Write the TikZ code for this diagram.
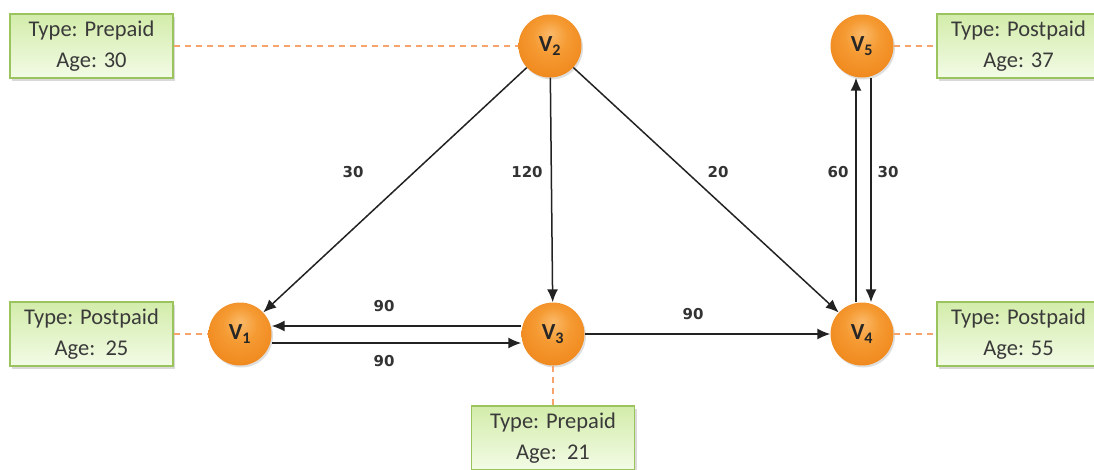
\documentclass[tikz,border=0pt]{standalone}
\usepackage{fontspec}
\setmainfont{Carlito}
\newfontfamily\lblfont{DejaVu Sans}
\usetikzlibrary{arrows.meta,shadows,shadings}
\definecolor{boxborder}{HTML}{9BC45E}
\definecolor{boxtop}{HTML}{D3ECAA}
\definecolor{boxbot}{HTML}{F3FBE6}
\definecolor{dashor}{HTML}{F6A46C}
\definecolor{lbltext}{HTML}{333333}
\definecolor{boxtext}{HTML}{3A3A3A}
\definecolor{edgecol}{HTML}{222222}
\definecolor{ballhi}{HTML}{FBB968}
\definecolor{ballmid}{HTML}{F59A32}
\definecolor{ballmain}{HTML}{EE8418}
\definecolor{balledge}{HTML}{CC6A0A}
\pgfdeclareradialshading{orangeball}{\pgfpoint{0bp}{10bp}}{%
  color(0bp)=(ballhi);color(14bp)=(ballmid);color(34bp)=(ballmain);color(44bp)=(balledge);color(50bp)=(balledge)}
\begin{document}
\begin{tikzpicture}[x=1pt,y=-1pt,
  vert/.style={circle,minimum size=63pt,inner sep=0pt,shading=orangeball,
    drop shadow={opacity=0.25,shadow xshift=1.5pt,shadow yshift=-2pt},
    font=\fontsize{23}{24}\selectfont\bfseries,text=black!85},
  infobox/.style={rectangle,draw=boxborder,line width=1.5pt,top color=boxtop,bottom color=boxbot,
    minimum width=163pt,minimum height=64pt,align=center,inner sep=0pt,text=boxtext,
    font=\fontsize{22.5}{31}\selectfont,
    drop shadow={opacity=0.3,shadow xshift=2pt,shadow yshift=-2.5pt}},
  edge/.style={draw=edgecol,line width=1.5pt,-{Latex[length=13pt,width=11pt]}},
  dashline/.style={draw=dashor,line width=1.5pt,dash pattern=on 6pt off 5pt},
  elbl/.style={font=\lblfont\bfseries\fontsize{15}{16}\selectfont,text=lbltext,inner sep=1pt}]
\useasboundingbox (0,0) rectangle (1094,469);
% info boxes
\node[infobox] (b2) at (91.5,46) {Type: Prepaid\\Age: 30};
\node[infobox] (b1) at (91.5,334) {Type: Postpaid\\Age:\ \ 25};
\node[infobox] (b3) at (553,438) {Type: Prepaid\\Age:\ \ 21};
\node[infobox] (b5) at (1018.5,46) {Type: Postpaid\\Age: 37};
\node[infobox] (b4) at (1018.5,334) {Type: Postpaid\\Age: 55};
% vertices
\node[vert] (v2) at (550,46) {V\textsubscript{2}};
\node[vert] (v1) at (240,334) {V\textsubscript{1}};
\node[vert] (v3) at (553,334) {V\textsubscript{3}};
\node[vert] (v4) at (862,334) {V\textsubscript{4}};
\node[vert] (v5) at (862,46) {V\textsubscript{5}};
% dashed links
\draw[dashline] (b2.east) -- (v2.west);
\draw[dashline] (b1.east) -- (v1.west);
\draw[dashline] (v3.south) -- (b3.north);
\draw[dashline] (v5.east) -- (b5.west);
\draw[dashline] (v4.east) -- (b4.west);
% edges
\draw[edge] (v2) -- (v1);
\draw[edge] (v2) -- (v3);
\draw[edge] (v2) -- (v4);
\draw[edge] ([xshift=-6pt]v4.north) -- ([xshift=-6pt]v5.south);
\draw[edge] ([xshift=9pt]v5.south) -- ([xshift=9pt]v4.north);
\draw[edge] ([yshift=8pt]v3.west) -- ([yshift=8pt]v1.east);
\draw[edge] ([yshift=-9pt]v1.east) -- ([yshift=-9pt]v3.west);
\draw[edge] (v3) -- (v4);
% edge labels
\node[elbl] (l21) at (353,172) {30};
\node[elbl] (l23) at (527,172) {120};
\node[elbl] (l24) at (718,172) {20};
\node[elbl] (l45) at (838,172) {60};
\node[elbl] (l54) at (888,172) {30};
\node[elbl] (l31) at (384,306) {90};
\node[elbl] (l13) at (384,361) {90};
\node[elbl] (l34) at (693,314) {90};
\end{tikzpicture}
\end{document}
